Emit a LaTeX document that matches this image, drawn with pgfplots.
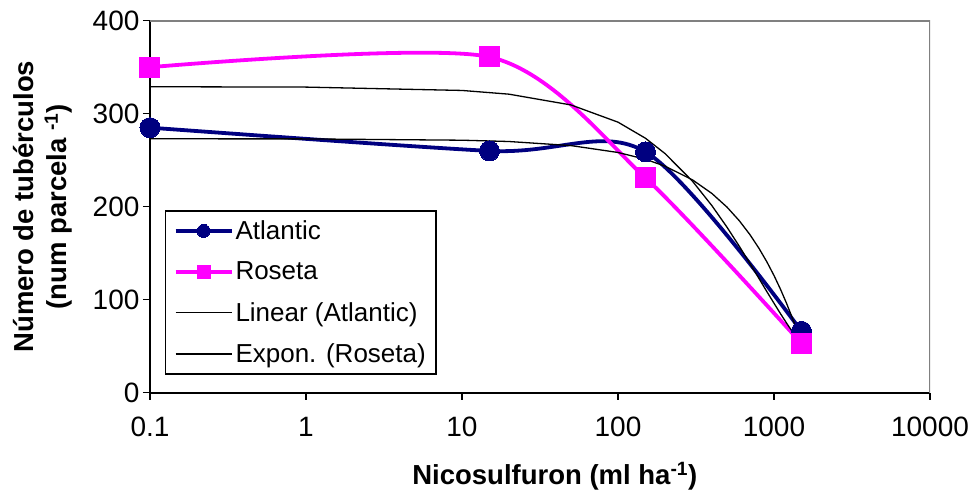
\documentclass[border=0pt]{standalone}
\usepackage{fontspec}
\setmainfont{Liberation Sans}
\usepackage{pgfplots}
\pgfplotsset{compat=1.18}
\definecolor{atl}{RGB}{0,0,128}
\definecolor{ros}{RGB}{255,0,255}
\definecolor{frame}{RGB}{128,128,128}
\begin{document}
\begin{tikzpicture}
\begin{axis}[
  xmode=log, log basis x=10,
  width=780pt, height=372pt, scale only axis,
  xmin=0.1, xmax=10000, ymin=0, ymax=400,
  xtick={0.1,1,10,100,1000,10000},
  xticklabels={0.1,1,10,100,1000,10000},
  ytick={0,100,200,300,400},
  xminorticks=false,
  axis x line*=bottom, axis y line*=left,
  axis line style={line width=2pt, black},
  tick align=outside,
  major tick length=7pt,
  tick style={line width=1.5pt, black},
  /pgf/number format/assume math mode=true,
  tick label style={font=\fontsize{28}{33}\selectfont},
  xticklabel style={yshift=-14pt},
  xlabel={Nicosulfuron (ml ha\textsuperscript{-1})},
  ylabel={Número de tubérculos\\(num parcela \textsuperscript{-1})},
  label style={font=\bfseries\fontsize{27.5}{33}\selectfont, align=center},
  xlabel style={at={(axis description cs:0.519,-0.224)}, anchor=center},
  ylabel style={at={(axis description cs:-0.137,0.5)}, anchor=center},
  legend cell align=left,
  legend style={at={(axis description cs:0.0192,0.4911)}, anchor=north west,
    draw=black, line width=1.5pt, fill=white,
    font=\fontsize{26}{31}\selectfont, row sep=17pt, inner xsep=8pt, inner ysep=8pt},
  legend image code/.code={%
    \draw[mark repeat=2,mark phase=2,mark size=6.5pt] plot coordinates {(0pt,0pt) (28pt,0pt) (56pt,0pt)};},
]
\coordinate (ll) at (rel axis cs:0,0);
\coordinate (ur) at (rel axis cs:1,1);
\draw[frame, line width=2pt] (rel axis cs:0,1) -- (rel axis cs:1,1) -- (rel axis cs:1,0);

\addplot[atl, line width=3.8pt, smooth, tension=0.5, mark=*, mark size=10pt,
  mark options={solid, fill=atl, draw=atl, line width=0pt}]
  coordinates {(0.1,285) (15,260) (150,259) (1500,66)};
\addlegendentry{Atlantic}

\addplot[ros, line width=3.8pt, smooth, tension=0.45, mark=square*, mark size=10pt,
  mark options={solid, fill=ros, draw=ros, line width=0pt}]
  coordinates {(0.1,350) (15,361) (150,231) (1500,53)};
\addlegendentry{Roseta}

\addplot[black, line width=1.3pt, no marks] coordinates {
  (0.1,273.0) (1,272.9) (10,271.5) (20,270.1) (50,265.7) (100,258.3)
  (150,251.0) (200,243.6) (300,228.9) (400,214.2) (500,199.5) (600,184.8)
  (700,170.1) (800,155.4) (900,140.7) (1000,126.0) (1100,111.3) (1200,96.6)
  (1300,81.9) (1400,67.2) (1500,52.5)};
\addlegendentry{Linear (Atlantic)}

\addplot[black, line width=1.3pt, no marks] coordinates {
  (0.1,329.0) (1,328.6) (10,325.0) (20,321.0) (50,309.4) (100,290.9)
  (150,273.6) (200,257.2) (300,227.5) (400,201.1) (500,177.9) (600,157.3)
  (700,139.1) (800,123.0) (900,108.7) (1000,96.2) (1100,85.0) (1200,75.2)
  (1300,66.5) (1400,58.8) (1500,52.0)};
\addlegendentry{Expon. (Roseta)}
\end{axis}
\pgfresetboundingbox
\path ([shift={(-150pt,-102.3pt)}]ll) rectangle ([shift={(38pt,20.7pt)}]ur);
\end{tikzpicture}
\end{document}
